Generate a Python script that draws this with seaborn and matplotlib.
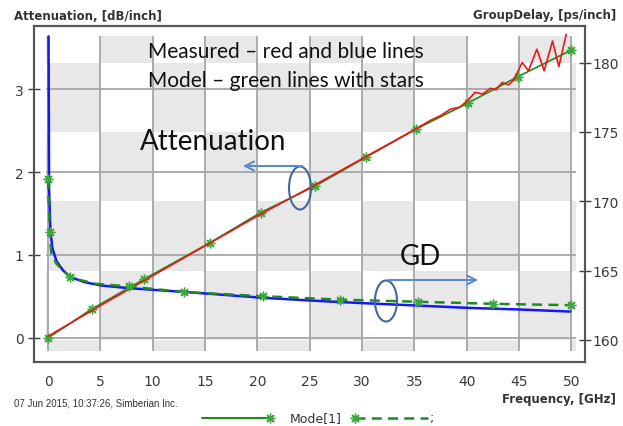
import matplotlib
matplotlib.use("Agg")
import matplotlib.pyplot as plt
from matplotlib.patches import Rectangle, Ellipse, FancyArrowPatch
from matplotlib.lines import Line2D
import seaborn as sns

# measured attenuation, dB/inch (red)
att_meas_freq = [0, 5, 10, 15, 20, 25, 30, 33, 35, 36.5, 37.5, 38.5, 39.3, 40.0,
                 40.8, 41.5, 42.3, 42.8, 43.4, 44.0, 44.5, 45.3, 45.9, 46.7, 47.4,
                 48.2, 48.8, 49.5]
att_meas = [0.02, 0.39, 0.75, 1.11, 1.47, 1.81, 2.16, 2.37, 2.51, 2.62, 2.68, 2.76,
            2.78, 2.85, 2.96, 2.94, 3.01, 2.99, 3.08, 3.05, 3.11, 3.32, 3.22, 3.48,
            3.22, 3.58, 3.27, 3.66]

# model attenuation (green, stars)
att_model_freq = [0, 4.2, 9.2, 15.5, 20.3, 25.5, 30.4, 35.2, 40.1, 44.9, 50]
att_model = [0, 0.35, 0.71, 1.15, 1.51, 1.83, 2.18, 2.52, 2.83, 3.15, 3.47]

# measured group delay, ps/inch (blue)
gd_meas_freq = [0.05, 0.1, 0.23, 0.42, 0.8, 1.44, 2.24, 3.5, 5.1, 7.7, 11.0, 15.5,
                20.6, 26.0, 30.0, 35.1, 40.0, 45.0, 49.9]
gd_meas = [181.9, 170.9, 167.8, 166.6, 165.7, 165.0, 164.5, 164.16, 163.92, 163.73,
           163.56, 163.32, 163.03, 162.8, 162.65, 162.48, 162.31, 162.19, 162.04]

# model group delay (green dashed, stars at selected points)
gd_model_freq = [0, 0.15, 0.3, 0.8, 2.1, 4.5, 7.7, 13.0, 20.5, 27.9, 35.3, 42.5, 50]
gd_model = [171.6, 167.8, 166.3, 165.5, 164.5, 164.05, 163.85, 163.45, 163.15,
            162.9, 162.75, 162.6, 162.5]
gd_model_stars = [0, 1, 4, 6, 7, 8, 9, 10, 11, 12]

freq_ticks = list(range(0, 55, 5))
att_ticks = [0, 1, 2, 3]
gd_ticks = [160, 165, 170, 175, 180]

RED = "#f01515"
BLUE = "#1515ff"
GREEN = "#208a20"
STAR = "#3aa83a"
ARROW = "#5b8bc9"
RING = "#41699c"
STARMK = (8, 2, 0)

sns.set_style("white")
plt.rcParams["font.family"] = ["DejaVu Sans"]

fig = plt.figure(figsize=(6.23, 4.27), dpi=100)
ax = fig.add_axes([34 / 623, 1 - 363 / 427, 551 / 623, 336 / 427])
ax2 = ax.twinx()

ax.set_xlim(-1.34, 51.3)
ax.set_ylim(-0.29, 3.76)
ax2.set_ylim(158.4, 182.65)
ax.set_autoscale_on(False)

# checkerboard background (columns = 5 GHz, rows = 5 ps/inch)
col_edges = [-0.15] + freq_ticks + [50.4]
row_edges = [159.2] + gd_ticks + [181.9]
for i in range(len(col_edges) - 1):
    for j in range(len(row_edges) - 1):
        if (i + j) % 2 == 1:
            ax.add_patch(Rectangle((col_edges[i], row_edges[j]),
                                   col_edges[i + 1] - col_edges[i],
                                   row_edges[j + 1] - row_edges[j],
                                   transform=ax2.transData, facecolor="#e8e8e8",
                                   edgecolor="none", zorder=0))

ax.vlines(freq_ticks, row_edges[0], row_edges[-1], transform=ax2.transData,
          color="#a6a6a6", lw=1.3, zorder=0.5)
ax.hlines(att_ticks, col_edges[0], col_edges[-1], color="#a6a6a6", lw=1.3, zorder=0.5)

# attenuation
sns.lineplot(x=att_meas_freq, y=att_meas, ax=ax, color=RED, linewidth=1.2,
             estimator=None, sort=False, zorder=3)
sns.lineplot(x=att_model_freq, y=att_model, ax=ax, color=GREEN, linewidth=1.2,
             estimator=None, sort=False, zorder=2, marker=STARMK, markersize=7,
             markeredgecolor=STAR, markeredgewidth=1.0)

# group delay
sns.lineplot(x=gd_meas_freq, y=gd_meas, ax=ax2, color=BLUE, linewidth=1.8,
             estimator=None, sort=False, zorder=3)
sns.lineplot(x=gd_model_freq, y=gd_model, ax=ax2, color=GREEN, linewidth=1.8,
             linestyle=(0, (4, 2.5)), estimator=None, sort=False, zorder=4,
             marker=STARMK, markersize=7, markeredgecolor=STAR,
             markeredgewidth=1.0, markevery=gd_model_stars)

ax.set_xticks(freq_ticks)
ax.set_yticks(att_ticks)
ax2.set_yticks(gd_ticks)
ax.set_xlabel("")
ax.set_ylabel("")
ax2.set_ylabel("")
ax.grid(False)
ax2.grid(False)

for a in (ax, ax2):
    a.tick_params(direction="inout", length=9, width=1.0, color="#404040",
                  labelsize=10, labelcolor="#3a3a3a", pad=3)
    for s in a.spines.values():
        s.set_color("#555555")
        s.set_linewidth(1.5)
ax.tick_params(axis="x", pad=4)
ax2.tick_params(axis="y", pad=1)

# axis titles
fig.text(14 / 623, 1 - 16 / 427, "Attenuation, [dB/inch]", ha="left", va="center",
         fontweight="bold", fontsize=8.5, color="#333333")
fig.text(616 / 623, 1 - 16 / 427, "GroupDelay, [ps/inch]", ha="right", va="center",
         fontweight="bold", fontsize=8.5, color="#333333")
fig.text(616 / 623, 1 - 400 / 427, "Frequency, [GHz]", ha="right", va="center",
         fontweight="bold", fontsize=8.5, color="#333333")
fig.text(14 / 623, 1 - 404 / 427, "07 Jun 2015, 10:37:26, Simberian Inc.",
         ha="left", va="center", fontsize=7, family="Liberation Sans", color="#333333")

# annotations
fig.text(148 / 623, 1 - 52 / 427, "Measured – red and blue lines", ha="left",
         va="center", fontsize=15, family="Lato", color="#111111")
fig.text(148 / 623, 1 - 81 / 427, "Model – green lines with stars", ha="left",
         va="center", fontsize=15, family="Lato", color="#111111")
fig.text(140 / 623, 1 - 142 / 427, "Attenuation", ha="left", va="center",
         fontsize=20, family="Lato", color="#111111")
fig.text(400 / 623, 1 - 257 / 427, "GD", ha="left", va="center",
         fontsize=20, family="Lato", color="#111111")

fig.add_artist(Ellipse((300 / 623, 1 - 189 / 427), 22 / 623, 43 / 427,
                       transform=fig.transFigure, fill=False, ec=RING, lw=1.5))
fig.add_artist(FancyArrowPatch((305 / 623, 1 - 167 / 427), (240 / 623, 1 - 167 / 427),
                               transform=fig.transFigure, arrowstyle="->",
                               mutation_scale=16, color=ARROW, lw=1.5))
fig.add_artist(Ellipse((386 / 623, 1 - 302 / 427), 22 / 623, 41 / 427,
                       transform=fig.transFigure, fill=False, ec=RING, lw=1.5))
fig.add_artist(FancyArrowPatch((386 / 623, 1 - 281 / 427), (481 / 623, 1 - 281 / 427),
                               transform=fig.transFigure, arrowstyle="->",
                               mutation_scale=16, color=ARROW, lw=1.5))

# legend strip at the bottom
ly = 1 - 419 / 427
fig.add_artist(Line2D([202 / 623, 270 / 623], [ly, ly], transform=fig.transFigure,
                      color=GREEN, lw=1.5))
fig.add_artist(Line2D([270 / 623], [ly], transform=fig.transFigure, marker=STARMK,
                      markersize=7, markeredgecolor=STAR, color=GREEN))
fig.text(290 / 623, ly, "Mode[1]", ha="left", va="center", fontsize=9,
         color="#333333")
fig.add_artist(Line2D([355 / 623, 428 / 623], [ly, ly], transform=fig.transFigure,
                      color=GREEN, lw=1.8, linestyle=(0, (4, 2.5))))
fig.add_artist(Line2D([355 / 623], [ly], transform=fig.transFigure, marker=STARMK,
                      markersize=7, markeredgecolor=STAR, color=GREEN))
fig.text(430 / 623, ly, ";", ha="left", va="center", fontsize=9, color="#333333")

fig.savefig("out.png", dpi=100)
